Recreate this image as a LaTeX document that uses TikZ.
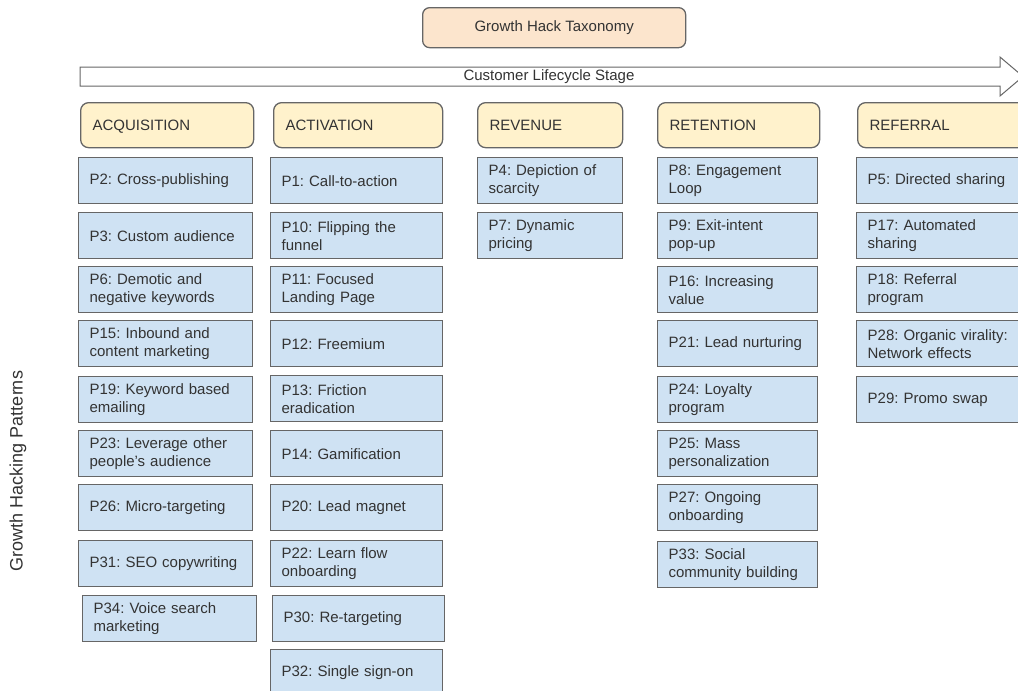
\documentclass[tikz,border=0pt]{standalone}
\usepackage{fontspec}
\setmainfont{Liberation Sans}
\frenchspacing
\hyphenpenalty=10000
\exhyphenpenalty=10000
\definecolor{titlefill}{HTML}{FCE5CD}
\definecolor{hdrfill}{HTML}{FFF2CC}
\definecolor{pfill}{HTML}{CFE2F3}
\definecolor{edge}{HTML}{666666}
\definecolor{ink}{HTML}{333333}
\tikzset{
  base/.style={draw=edge, line width=1.3pt, text=ink, anchor=north west,
    font=\fontsize{15}{18}\selectfont\frenchspacing, inner xsep=11pt, inner ysep=0pt},
  titlebox/.style={base, fill=titlefill, rounded corners=7pt, align=center},
  hdr/.style={base, fill=hdrfill, rounded corners=8pt, minimum height=45pt, align=left,
    text width=#1, inner xsep=12pt, text height=11pt, text depth=0pt},
  pbox/.style={base, fill=pfill, minimum height=46pt, align=left, text width=#1},
  acq/.style={pbox=152pt},
  act/.style={pbox=150pt},
  rev/.style={pbox=123pt},
  ret/.style={pbox=138pt},
  ref/.style={pbox=152pt},
}
\begin{document}
\begin{tikzpicture}[x=1pt,y=-1pt]
\useasboundingbox (0,0) rectangle (1018,691);
\clip (0,0) rectangle (1018,691);
% title
\node[titlebox, minimum width=263pt, minimum height=40pt] (title) at (422,7) {Growth Hack Taxonomy};
% lifecycle arrow
\coordinate (a1) at (80,67);
\coordinate (a2) at (1000,67);
\coordinate (a3) at (1000,57);
\coordinate (a4) at (1023,76.5);
\coordinate (a5) at (1000,96);
\coordinate (a6) at (1000,86);
\coordinate (a7) at (80,86);
\draw[draw=edge, line width=1pt, fill=white] (a1) -- (a2) -- (a3) -- (a4) -- (a5) -- (a6) -- (a7) -- cycle;
\node[text=ink, font=\fontsize{15}{18}\selectfont] (lifecycle) at (549,77) {Customer Lifecycle Stage};
% side label
\node[text=ink, rotate=90, font=\fontsize{18}{21}\selectfont] (side) at (18,471) {Growth Hacking Patterns};
% headers
\node[hdr=149pt] (hacq) at (80,102) {ACQUISITION};
\node[hdr=145pt] (hact) at (273,102) {ACTIVATION};
\node[hdr=121pt] (hrev) at (477,102) {REVENUE};
\node[hdr=138pt] (hret) at (657,102) {RETENTION};
\node[hdr=150pt] (href) at (857,102) {REFERRAL};
% acquisition
\node[acq] (p2) at (78,157) {P2: Cross-publishing};
\node[acq] (p3) at (78,212) {P3: Custom audience};
\node[acq] (p6) at (78,266) {P6: Demotic and\\negative keywords};
\node[acq] (p15) at (78,320) {P15: Inbound and\\content marketing};
\node[acq] (p19) at (78,376) {P19: Keyword based\\emailing};
\node[acq] (p23) at (78,430) {P23: Leverage other\\people's audience};
\node[acq] (p26) at (78,484) {P26: Micro-targeting};
\node[acq] (p31) at (78,540) {P31: SEO copywriting};
\node[acq] (p34) at (82,595) {P34: Voice search\\marketing};
% activation
\node[act] (p1) at (270,157) {P1: Call-to-action};
\node[act] (p10) at (270,212) {P10: Flipping the\\funnel};
\node[act] (p11) at (270,266) {P11: Focused\\Landing Page};
\node[act] (p12) at (270,320) {P12: Freemium};
\node[act] (p13) at (270,375) {P13: Friction\\eradication};
\node[act] (p14) at (270,430) {P14: Gamification};
\node[act] (p20) at (270,484) {P20: Lead magnet};
\node[act] (p22) at (270,540) {P22: Learn flow\\onboarding};
\node[act] (p30) at (272,595) {P30: Re-targeting};
\node[act] (p32) at (270,649) {P32: Single sign-on};
% revenue
\node[rev] (p4) at (477,157) {P4: Depiction of\\scarcity};
\node[rev] (p7) at (477,212) {P7: Dynamic\\pricing};
% retention
\node[ret] (p8) at (657,157) {P8: Engagement\\Loop};
\node[ret] (p9) at (657,212) {P9: Exit-intent\\pop-up};
\node[ret] (p16) at (657,266) {P16: Increasing\\value};
\node[ret] (p21) at (657,320) {P21: Lead nurturing};
\node[ret] (p24) at (657,376) {P24: Loyalty\\program};
\node[ret] (p25) at (657,430) {P25: Mass\\personalization};
\node[ret] (p27) at (657,484) {P27: Ongoing\\onboarding};
\node[ret] (p33) at (657,541) {P33: Social\\community building};
% referral
\node[ref] (p5) at (856,157) {P5: Directed sharing};
\node[ref] (p17) at (856,212) {P17: Automated\\sharing};
\node[ref] (p18) at (856,266) {P18: Referral\\program};
\node[ref] (p28) at (856,320) {P28: Organic virality:\\Network effects};
\node[ref] (p29) at (856,376) {P29: Promo swap};
\end{tikzpicture}
\end{document}
